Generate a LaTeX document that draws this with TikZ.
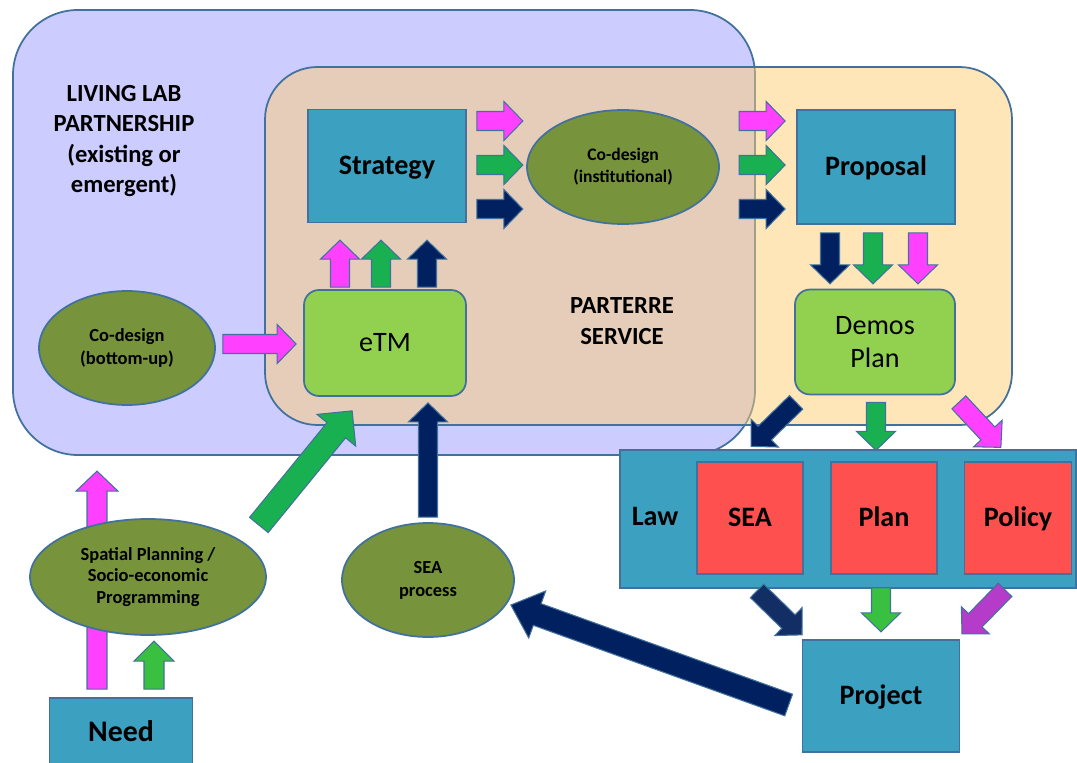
\documentclass[tikz,border=0pt]{standalone}
\usepackage{fontspec}
\setmainfont{Carlito}
\usetikzlibrary{shapes.geometric}
\usetikzlibrary{calc}

\definecolor{lineblue}{RGB}{65,113,156}
\definecolor{lavender}{RGB}{204,204,255}
\definecolor{peach}{RGB}{255,206,116}
\definecolor{boxblue}{RGB}{60,160,192}
\definecolor{boxgreen}{RGB}{146,208,80}
\definecolor{boxred}{RGB}{255,80,80}
\definecolor{ellgreen}{RGB}{119,147,60}
\definecolor{arrmag}{RGB}{255,64,255}
\definecolor{arrgreen}{RGB}{24,176,80}
\definecolor{arrnavy}{RGB}{0,32,96}
\definecolor{arrpurple}{RGB}{180,60,200}

\tikzset{
  bshaft/.store in=\bshaft, bhead/.store in=\bhead, blen/.store in=\blen,
  bshaft=0.19cm, bhead=0.39cm, blen=0.38cm,
  bigarrow/.style={bshaft=0.24cm, bhead=0.5cm, blen=0.5cm},
  arrowline/.style={draw=lineblue, line width=0.6pt},
  bluebox/.style={rectangle, draw=lineblue, line width=1pt, fill=boxblue, inner sep=0pt,
    text height=1.02em, text depth=0em, font=\fontsize{16}{19}\selectfont\bfseries},
  redbox/.style={bluebox, fill=boxred},
  greenbox/.style={rectangle, rounded corners=0.3cm, draw=lineblue, line width=1pt, fill=boxgreen,
    inner sep=0pt, align=center, font=\fontsize{16}{18.8}\selectfont},
  oval/.style={ellipse, draw=lineblue, line width=1pt, fill=ellgreen, inner sep=0pt, align=center,
    font=\fontsize{10.5}{13}\selectfont\bfseries},
  areatext/.style={align=center, font=\fontsize{14}{17.4}\selectfont\bfseries}
}

% block arrow from #3 to #4, filled with #2
\newcommand{\blockarrow}[4][]{%
  \begin{scope}[#1]
    \coordinate (ba-s) at #3;
    \coordinate (ba-e) at #4;
    \coordinate (ba-h) at ($(ba-e)!\blen!(ba-s)$);
    \draw[arrowline,fill=#2] ($(ba-s)!\bshaft!90:(ba-e)$) -- ($(ba-h)!\bshaft!90:(ba-e)$)
      -- ($(ba-h)!\bhead!90:(ba-e)$) -- (ba-e) -- ($(ba-h)!\bhead!-90:(ba-e)$)
      -- ($(ba-h)!\bshaft!-90:(ba-e)$) -- ($(ba-s)!\bshaft!-90:(ba-e)$) -- cycle;
  \end{scope}}

\begin{document}
\begin{tikzpicture}[x=0.02cm,y=-0.02cm]
\useasboundingbox (0,0) rectangle (1077,763);
\clip (0,0) rectangle (1077,763);
\fill[white] (0,0) rectangle (1077,763);

% living lab and parterre areas
\draw[fill=lavender,draw=lineblue,line width=1pt,rounded corners=1.3cm] (13,10) rectangle (755,455);
\draw[fill=peach,fill opacity=0.5,draw=lineblue,line width=1pt,rounded corners=1.05cm] (265,67) rectangle (1012,425);
\node[areatext] (livinglab) at (124,141) {LIVING LAB\\PARTNERSHIP\\(existing or\\emergent)};
\node[areatext] (parterre) at (622,321) {PARTERRE\\SERVICE};

\node[bluebox,minimum width=3.16cm,minimum height=2.26cm] (strategy) at (387,166) {Strategy};
\node[greenbox,minimum width=3.24cm,minimum height=2.12cm] (etm) at (385,343) {eTM};
\node[oval,minimum width=3.84cm,minimum height=2.28cm,font=\fontsize{10}{12.5}\selectfont\bfseries] (codesigninst) at (623,167) {Co-design\\(institutional)};
\node[bluebox,minimum width=3.16cm,minimum height=2.28cm] (proposal) at (876,167) {Proposal};
\node[greenbox,minimum width=3.2cm,minimum height=2.1cm] (demos) at (875,342) {Demos\\Plan};
\node[oval,minimum width=3.52cm,minimum height=2.28cm] (codesignbu) at (127,348) {Co-design\\(bottom-up)};

\node[bluebox,minimum width=9.12cm,minimum height=2.76cm] (law) at (848,519) {};
\node[bluebox,draw=none,fill=none] (lawlabel) at (655,517) {Law};
\node[redbox,minimum width=2.12cm,minimum height=2.24cm] (sea) at (750,518) {SEA};
\node[redbox,minimum width=2.12cm,minimum height=2.24cm] (plan) at (884,518) {Plan};
\node[redbox,minimum width=2.14cm,minimum height=2.24cm] (policy) at (1018,518) {Policy};
\node[bluebox,minimum width=3.14cm,minimum height=2.24cm] (project) at (881,696) {Project};
\node[oval,minimum width=3.44cm,minimum height=2.28cm] (seaproc) at (428,580) {SEA\\process};
\node[bluebox,minimum width=2.86cm,minimum height=1.4cm,font=\fontsize{17}{20}\selectfont\bfseries] (need) at (121,733) {Need};

% need -> partnership (behind the spatial planning oval)
\blockarrow[bshaft=0.2cm,bhead=0.42cm,blen=0.4cm]{arrmag}{($(need.north)+(-24,-8)$)}{($(need.north)+(-24,-226)$)}
\node[oval,minimum width=4.72cm,minimum height=2.32cm,font=\fontsize{10.5}{12.2}\selectfont\bfseries] (spatial) at (148,577) {Spatial Planning /\\Socio-economic\\Programming};
\blockarrow[bshaft=0.2cm,bhead=0.4cm,blen=0.4cm]{arrgreen!80!lime}{($(need.north)+(33,-8)$)}{($(need.north)+(33,-56)$)}

% strategy -> co-design (institutional)
\blockarrow{arrmag}{($(strategy.east)+(10,-45)$)}{($(strategy.east)+(56,-45)$)}
\blockarrow{arrgreen}{($(strategy.east)+(10,-1)$)}{($(strategy.east)+(56,-1)$)}
\blockarrow{arrnavy}{($(strategy.east)+(10,43)$)}{($(strategy.east)+(56,43)$)}
% co-design (institutional) -> proposal
\blockarrow{arrmag}{($(proposal.west)+(-57,-46)$)}{($(proposal.west)+(-11,-46)$)}
\blockarrow{arrgreen}{($(proposal.west)+(-57,-2)$)}{($(proposal.west)+(-11,-2)$)}
\blockarrow{arrnavy}{($(proposal.west)+(-57,42)$)}{($(proposal.west)+(-11,42)$)}
% eTM -> strategy
\blockarrow{arrmag}{($(etm.north)+(-45,-2)$)}{($(etm.north)+(-45,-49)$)}
\blockarrow{arrgreen}{($(etm.north)+(-4,-2)$)}{($(etm.north)+(-4,-49)$)}
\blockarrow{arrnavy}{($(etm.north)+(42,-2)$)}{($(etm.north)+(42,-49)$)}
% co-design (bottom-up) -> eTM
\blockarrow{arrmag}{($(codesignbu.east)+(7,-4)$)}{($(etm.west)+(-7,1)$)}
% proposal -> demos plan
\blockarrow{arrnavy}{($(proposal.south)+(-46,8)$)}{($(proposal.south)+(-46,59)$)}
\blockarrow{arrgreen}{($(proposal.south)+(-3,8)$)}{($(proposal.south)+(-3,59)$)}
\blockarrow{arrmag}{($(proposal.south)+(42,8)$)}{($(proposal.south)+(42,59)$)}
% demos plan -> law
\blockarrow{arrnavy}{($(demos.south west)+(2,7)$)}{($(demos.south west)+(-43,51)$)}
\blockarrow{arrgreen}{($(demos.south)+(1,7)$)}{($(demos.south)+(1,55)$)}
\blockarrow{arrmag}{($(demos.south east)+(3,7)$)}{($(demos.south east)+(45,52)$)}
% law -> project
\blockarrow{arrnavy!85!gray}{($(sea.south)+(7,16)$)}{($(sea.south)+(52,60)$)}
\blockarrow{arrgreen!80!lime}{($(plan.south)+(-3,13)$)}{($(plan.south)+(-3,57)$)}
\blockarrow{arrpurple}{($(policy.south)+(-13,15)$)}{($(policy.south)+(-56,59)$)}
% project -> SEA process -> eTM
\blockarrow[bshaft=0.23cm,bhead=0.5cm,blen=0.56cm]{arrnavy}{($(project.west)+(-13,9)$)}{($(seaproc.east)+(-4,25)$)}
\blockarrow{arrnavy}{($(seaproc.north)+(0,-5)$)}{($(etm.south -| seaproc.north)+(0,6)$)}
% spatial planning -> eTM
\blockarrow[bigarrow]{arrgreen}{($(spatial.east)+(-8,-52)$)}{($(etm.south west)+(49,14)$)}

\end{tikzpicture}
\end{document}
